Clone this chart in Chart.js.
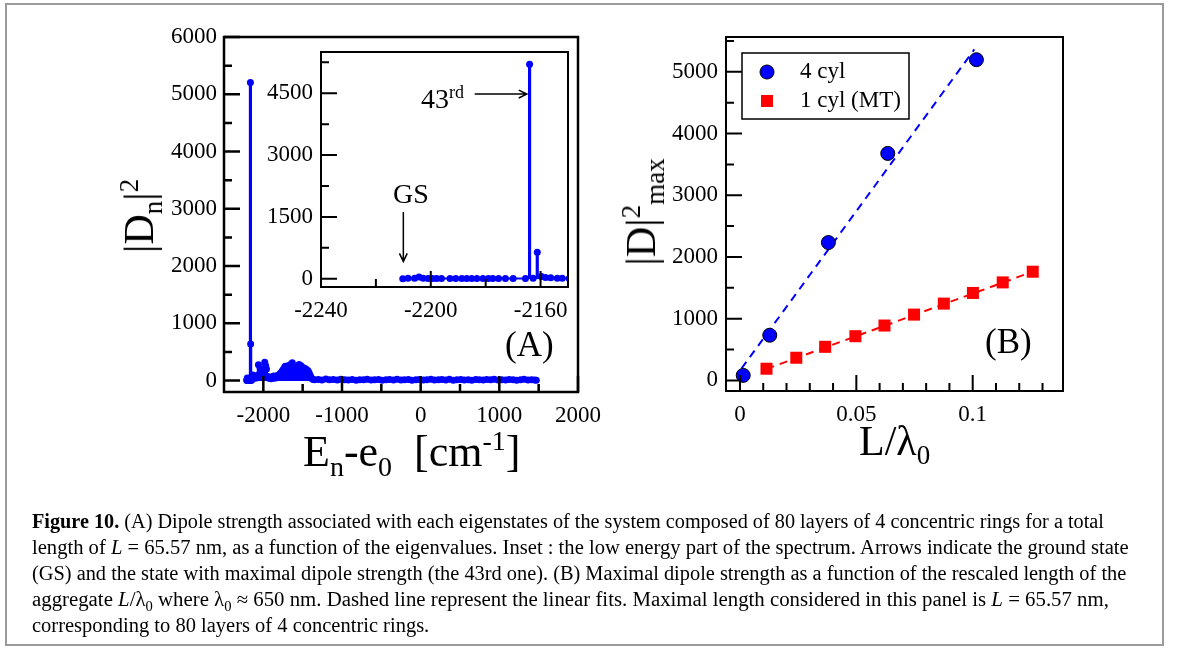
<!DOCTYPE html>
<html>
<head>
<meta charset="utf-8">
<script src="https://cdn.jsdelivr.net/npm/chart.js@4.4.1/dist/chart.umd.min.js"></script>
<style>
  body { margin: 0; background: #fff; }
  #page { position: relative; width: 1179px; height: 655px; overflow: hidden; font-family: "Liberation Serif", serif; color: #000; }
  canvas { position: absolute; left: 0; top: 0; }
  .frame { position: absolute; left: 5px; top: 3px; width: 1155px; height: 639px; border: 2px solid #9a9a9a; }
  .lbl { position: absolute; white-space: nowrap; line-height: 1; }
  .lbl sub, .lbl sup { line-height: 0; }
  .rot { transform-origin: center center; transform: translate(-50%, -50%) rotate(-90deg); }
  .cap { position: absolute; left: 32px; white-space: nowrap; font-size: 20px; line-height: 1; transform-origin: left center; }
  .cap sub { font-size: 70%; line-height: 0; }
</style>
</head>
<body>
<div id="page">
  <div class="frame"></div>
  <canvas id="mainA" width="1179" height="655"></canvas>
  <canvas id="insetA" width="1179" height="655"></canvas>
  <canvas id="panelB" width="1179" height="655"></canvas>

  <!-- axis titles and annotations -->
  <div class="lbl rot" style="left:139px; top:216px; font-size:42px;">|D<sub style="font-size:27px;">n</sub>|<sup style="font-size:27px;">2</sup></div>
  <div class="lbl" style="left:303px; top:430px; font-size:44px;">E<sub style="font-size:28px;">n</sub>-e<sub style="font-size:28px;">0</sub>&nbsp; [cm<sup style="font-size:28px;">-1</sup>]</div>
  <div class="lbl" style="left:505px; top:327px; font-size:35px;">(A)</div>
  <div class="lbl" style="left:393px; top:180px; font-size:28px;">GS</div>
  <div class="lbl" style="left:421px; top:85px; font-size:28px;">43<sup style="font-size:18px;">rd</sup></div>

  <div class="lbl rot" style="left:641px; top:212px; font-size:42px;">|D|<sup style="font-size:27px;">2</sup><sub style="font-size:27px;">max</sub></div>
  <div class="lbl" style="left:859px; top:420px; font-size:42px;">L/λ<sub style="font-size:27px;">0</sub></div>
  <div class="lbl" style="left:985px; top:324px; font-size:35px;">(B)</div>

  <div class="cap" id="c1" style="top:511px;"><b>Figure 10.</b> (A) Dipole strength associated with each eigenstates of the system composed of 80 layers of 4 concentric rings for a total</div>
  <div class="cap" id="c2" style="top:537px;">length of <i>L</i> = 65.57 nm, as a function of the eigenvalues. Inset : the low energy part of the spectrum. Arrows indicate the ground state</div>
  <div class="cap" id="c3" style="top:563px;">(GS) and the state with maximal dipole strength (the 43rd one). (B) Maximal dipole strength as a function of the rescaled length of the</div>
  <div class="cap" id="c4" style="top:589px;">aggregate <i>L</i>/λ<sub>0</sub> where λ<sub>0</sub> ≈ 650 nm. Dashed line represent the linear fits. Maximal length considered in this panel is <i>L</i> = 65.57 nm,</div>
  <div class="cap" id="c5" style="top:615px;">corresponding to 80 layers of 4 concentric rings.</div>
</div>

<script>
// ─── Data ──────────────────────────────────────────────────────────────────
const BLUE = "#0000ff";
const RED = "#ff0000";

// Inset: low energy part of the spectrum (eigenvalue in cm-1, |Dn|^2)
const insetE = [-2210.2, -2208.3, -2205.9, -2204.3, -2202.8, -2201.0, -2199.4, -2197.9, -2196.1, -2193.0,
  -2190.9, -2188.7, -2186.9, -2185.1, -2183.2, -2181.0, -2179.0, -2177.4, -2175.3, -2172.8,
  -2170.0, -2165.5, -2164.0, -2162.7, -2161.2, -2159.7, -2158.2, -2156.3, -2153.9, -2152.1, -2149.6];
const insetD = [0, 10, 15, 45, 10, 5, 8, 5, 6, 4,
  5, 4, 6, 8, 5, 8, 6, 4, 6, 5,
  6, 5, 5205, 10, 640, 55, 30, 25, 15, 10, 5];

// Rest of the spectrum shown in the main panel
const restE = [-2145, -2135, -2120, -2105, -2090, -2075, -2062, -2050, -2040, -2025,
  -2010, -1995, -1982, -1970, -1960, -1945, -1930, -1915, -1900, -1885,
  -1870, -1855, -1840, -1825, -1810, -1795, -1780, -1765, -1750, -1735,
  -1722, -1710, -1698, -1685, -1672, -1660, -1645, -1632, -1620, -1608,
  -1595, -1582, -1570, -1558, -1545, -1532, -1520, -1508, -1495, -1482,
  -1470, -1458, -1445, -1432, -1420, -1408, -1395, -1380, -1365,
  -1350, -1300, -1255, -1205, -1160, -1110, -1060, -1015, -965, -920,
  -870, -820, -775, -725, -680, -630, -585, -535, -490, -440,
  -395, -345, -300, -250, -205, -155, -110, -60, -15, 35,
  80, 130, 175, 225, 270, 320, 365, 415, 460, 510,
  555, 605, 650, 700, 745, 795, 840, 890, 935, 985,
  1030, 1080, 1125, 1175, 1220, 1270, 1315, 1365, 1410, 1450, 1470];
const restD = [70, 95, 60, 40, 85, 50, 275, 120, 210, 60,
  90, 180, 320, 260, 200, 70, 40, 60, 30, 55,
  80, 40, 70, 90, 60, 110, 130, 160, 190, 220,
  250, 200, 235, 260, 220, 270, 290, 310, 250, 200,
  170, 215, 240, 265, 280, 250, 260, 230, 210, 220,
  190, 200, 180, 170, 140, 100, 60, 30, 20,
  15, 20, 10, 25, 12, 18, 8, 22, 14, 10,
  20, 6, 16, 12, 24, 9, 15, 20, 7, 13,
  18, 10, 22, 8, 14, 19, 6, 12, 20, 9,
  15, 21, 8, 13, 17, 10, 24, 7, 14, 19,
  11, 16, 6, 20, 12, 9, 18, 14, 22, 8,
  15, 10, 19, 12, 7, 16, 21, 9, 13, 11, 6];

const mainE = insetE.concat(restE);
const mainD = insetD.concat(restD);

// Panel B: maximal dipole strength vs L/lambda0
const cyl4X = [0.0014, 0.0128, 0.0380, 0.0635, 0.1016];
const cyl4Y = [81, 732, 2234, 3678, 5197];
const cyl1X = [0.0114, 0.0242, 0.0366, 0.0496, 0.0621, 0.0748, 0.0876, 0.1001, 0.1129, 0.1258];
const cyl1Y = [189, 367, 544, 716, 889, 1066, 1244, 1417, 1588, 1761];
// linear fits (end points)
const fit4X = [0.0007, 0.1007];
const fit4Y = [194, 5363];
const fit1X = [0.0114, 0.1258];
const fit1Y = [186, 1762];

// Tick values
const aXMajor = [-2000, -1000, 0, 1000, 2000];
const aXMinor = [-1500, -500, 500, 1500];
const aYMajor = [0, 1000, 2000, 3000, 4000, 5000, 6000];
const aYMinor = [500, 1500, 2500, 3500, 4500, 5500];
const inXMajor = [-2240, -2200, -2160];
const inXMinor = [-2220, -2180];
const inYMajor = [0, 1500, 3000, 4500];
const inYMinor = [750, 2250, 3750, 5250];
const bXMajor = [0, 0.05, 0.1];
const bXMinor = [0.01, 0.02, 0.03, 0.04, 0.06, 0.07, 0.08, 0.09, 0.11, 0.12, 0.13];
const bYMajor = [0, 1000, 2000, 3000, 4000, 5000];
const bYMinor = [500, 1500, 2500, 3500, 4500, 5500];

// ─── Helpers ───────────────────────────────────────────────────────────────
Chart.defaults.font.family = "'Liberation Serif', serif";
Chart.defaults.font.size = 23;
Chart.defaults.color = "#000";
Chart.defaults.animation = false;

const pts = (xs, ys) => xs.map((x, i) => ({ x, y: ys[i] }));
const lbl = v => String(v);

// box around the plot area + inward ticks
function framePlugin(t, opts = {}) {
  return {
    id: "frame",
    beforeDraw(chart) {
      if (!opts.fill) return;
      const { ctx, chartArea: a } = chart;
      ctx.save();
      ctx.fillStyle = "#fff";
      ctx.fillRect(a.left, a.top, a.right - a.left, a.bottom - a.top);
      ctx.restore();
    },
    afterDatasetsDraw(chart) {
      const { ctx, chartArea: a, scales: { x, y } } = chart;
      ctx.save();
      ctx.strokeStyle = "#000";
      ctx.lineWidth = opts.lw || 2;
      ctx.strokeRect(a.left, a.top, a.right - a.left, a.bottom - a.top);
      ctx.beginPath();
      const xt = (vals, len) => vals.forEach(v => {
        const p = x.getPixelForValue(v);
        ctx.moveTo(p, a.bottom); ctx.lineTo(p, a.bottom - len);
      });
      const yt = (vals, len) => vals.forEach(v => {
        const p = y.getPixelForValue(v);
        ctx.moveTo(a.left, p); ctx.lineTo(a.left + len, p);
      });
      xt(t.xMajor, 16); xt(t.xMinor, 8);
      yt(t.yMajor, 16); yt(t.yMinor, 8);
      ctx.stroke();
      if (opts.extra) opts.extra(chart);
      ctx.restore();
    },
  };
}

function axes(xmin, xmax, ymin, ymax, xt, yt, xpad, ypad) {
  return {
    x: {
      type: "linear", min: xmin, max: xmax, offset: false,
      grid: { display: false, drawTicks: false }, border: { display: false },
      ticks: { padding: xpad, autoSkip: false, maxRotation: 0, callback: lbl },
      afterBuildTicks: s => { s.ticks = xt.map(v => ({ value: v })); },
      afterFit: s => { s.height = 40; },
    },
    y: {
      type: "linear", min: ymin, max: ymax, offset: false,
      grid: { display: false, drawTicks: false }, border: { display: false },
      ticks: { padding: ypad, autoSkip: false, callback: lbl },
      afterBuildTicks: s => { s.ticks = yt.map(v => ({ value: v })); },
      afterFit: s => { s.width = 80; },
    },
  };
}

// chart area placed at (L,T)-(R,B) on a full-page canvas
function pad(L, T, R, B) {
  return { left: L - 80, top: T, right: 1179 - R, bottom: 655 - B - 40 };
}

function spectrumSets(E, D, r, withBase) {
  return [
    {
      type: "scatter",
      data: pts(E, D),
      pointRadius: r,
      pointBackgroundColor: BLUE,
      pointBorderWidth: 0,
      showLine: withBase,
      borderColor: BLUE,
      borderWidth: 2,
      segment: { borderColor: c => (c.p0.parsed.y > 200 || c.p1.parsed.y > 200) ? "rgba(0,0,0,0)" : BLUE },
      order: 0,
    },
    {
      type: "bar",
      data: pts(E, D),
      backgroundColor: BLUE,
      barThickness: 2.5,
      order: 1,
    },
  ];
}

// ─── Panel A: main spectrum ────────────────────────────────────────────────
new Chart(document.getElementById("mainA"), {
  type: "scatter",
  data: { datasets: spectrumSets(mainE, mainD, 3.5, false) },
  options: {
    responsive: false,
    devicePixelRatio: 1,
    layout: { padding: pad(224, 37, 578, 392) },
    plugins: { legend: { display: false }, tooltip: { enabled: false } },
    scales: axes(-2500, 2000, -200, 6000, aXMajor, aYMajor, 10, 7),
  },
  plugins: [framePlugin({ xMajor: aXMajor, xMinor: aXMinor, yMajor: aYMajor, yMinor: aYMinor }, { lw: 2.5 })],
});

// ─── Panel A: inset ────────────────────────────────────────────────────────
function arrow(ctx, x1, y1, x2, y2) {
  const ang = Math.atan2(y2 - y1, x2 - x1), h = 9;
  ctx.beginPath();
  ctx.moveTo(x1, y1); ctx.lineTo(x2, y2);
  ctx.moveTo(x2 - h * Math.cos(ang - 0.45), y2 - h * Math.sin(ang - 0.45));
  ctx.lineTo(x2, y2);
  ctx.lineTo(x2 - h * Math.cos(ang + 0.45), y2 - h * Math.sin(ang + 0.45));
  ctx.stroke();
}

new Chart(document.getElementById("insetA"), {
  type: "scatter",
  data: { datasets: spectrumSets(insetE, insetD, 3.5, true) },
  options: {
    responsive: false,
    devicePixelRatio: 1,
    layout: { padding: pad(321, 52, 568, 287) },
    plugins: { legend: { display: false }, tooltip: { enabled: false } },
    scales: axes(-2240, -2150, -200, 5500, inXMajor, inYMajor, 10, 8),
  },
  plugins: [framePlugin({ xMajor: inXMajor, xMinor: inXMinor, yMajor: inYMajor, yMinor: inYMinor }, {
    fill: true, lw: 2,
    extra: chart => {
      const { ctx, scales: { x, y } } = chart;
      ctx.lineWidth = 1.5;
      // ground state and 43rd state arrows
      arrow(ctx, x.getPixelForValue(-2210), y.getPixelForValue(1620), x.getPixelForValue(-2210), y.getPixelForValue(420));
      arrow(ctx, x.getPixelForValue(-2184), y.getPixelForValue(4480), x.getPixelForValue(-2165), y.getPixelForValue(4480));
    },
  })],
});

// ─── Panel B ───────────────────────────────────────────────────────────────
function legendB(chart) {
  const { ctx, chartArea: a } = chart;
  const x0 = a.left + 16, y0 = a.top + 16;
  ctx.lineWidth = 1.5;
  ctx.strokeStyle = "#000";
  ctx.strokeRect(x0, y0, 167, 66);
  ctx.fillStyle = BLUE;
  ctx.beginPath(); ctx.arc(x0 + 25, y0 + 19, 7, 0, 2 * Math.PI); ctx.fill();
  ctx.lineWidth = 1; ctx.stroke();
  ctx.fillStyle = RED;
  ctx.fillRect(x0 + 19, y0 + 42, 12, 12);
  ctx.fillStyle = "#000";
  ctx.font = "23px 'Liberation Serif'";
  ctx.textBaseline = "alphabetic";
  ctx.fillText("4 cyl", x0 + 58, y0 + 25);
  ctx.fillText("1 cyl (MT)", x0 + 58, y0 + 54);
}

new Chart(document.getElementById("panelB"), {
  type: "scatter",
  data: {
    datasets: [
      { label: "4 cyl", data: pts(cyl4X, cyl4Y), pointRadius: 7, pointBackgroundColor: BLUE, pointBorderColor: "#000", pointBorderWidth: 1, order: 0 },
      { label: "1 cyl (MT)", data: pts(cyl1X, cyl1Y), pointStyle: "rect", pointRadius: 8.5, pointBackgroundColor: RED, pointBorderWidth: 0, order: 1 },
      { type: "line", data: pts(fit4X, fit4Y), borderColor: BLUE, borderWidth: 2, borderDash: [8, 6], pointRadius: 0, order: 2 },
      { type: "line", data: pts(fit1X, fit1Y), borderColor: RED, borderWidth: 2, borderDash: [8, 6], pointRadius: 0, order: 3 },
    ],
  },
  options: {
    responsive: false,
    devicePixelRatio: 1,
    layout: { padding: pad(726, 37, 1063, 391) },
    plugins: { legend: { display: false }, tooltip: { enabled: false } },
    scales: axes(-0.006, 0.1388, -172, 5565, bXMajor, bYMajor, 10, 8),
  },
  plugins: [framePlugin({ xMajor: bXMajor, xMinor: bXMinor, yMajor: bYMajor, yMinor: bYMinor }, { lw: 2, extra: legendB })],
});

// ─── Caption: squeeze each line to the width of the reference ──────────────
const capEnds = { c1: 1104, c2: 1129, c3: 1126, c4: 1109 };
let sum = 0, n = 0;
Object.entries(capEnds).forEach(([id, end]) => {
  const el = document.getElementById(id);
  const s = (end - 32) / el.scrollWidth;
  el.style.transform = `scaleX(${s})`;
  sum += s; n++;
});
document.getElementById("c5").style.transform = `scaleX(${sum / n})`;
</script>
</body>
</html>
